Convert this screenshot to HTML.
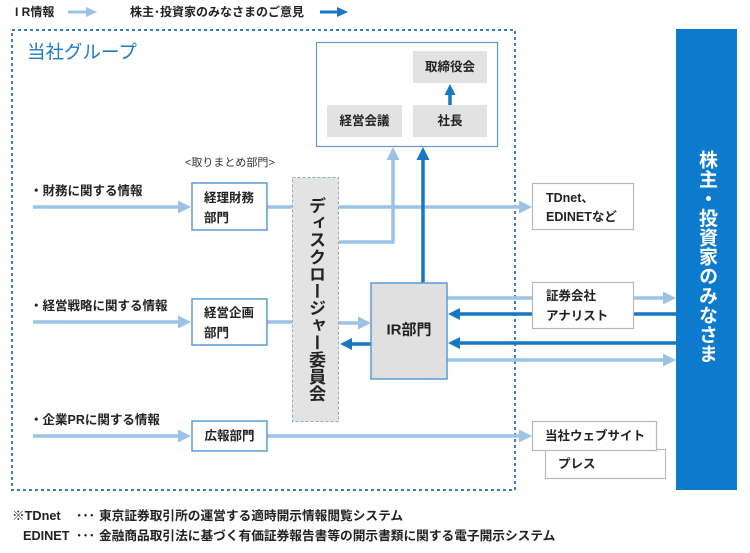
<!DOCTYPE html>
<html><head><meta charset="utf-8">
<style>
html,body{margin:0;padding:0;background:#fff;}
#c{position:relative;width:750px;height:553px;overflow:hidden;background:#fff;font-family:"Liberation Sans","Noto Sans CJK JP",sans-serif;}
svg{position:absolute;left:0;top:0;}
svg text{font-family:"Liberation Sans","Noto Sans CJK JP",sans-serif;}
.v{position:absolute;writing-mode:vertical-rl;font-family:"Liberation Sans","Noto Sans CJK JP",sans-serif;font-weight:bold;white-space:nowrap;}
</style></head><body>
<div id="c">
<svg width="750" height="553" viewBox="0 0 750 553">
  <!-- legend -->
  <text x="15" y="12" font-size="12" font-weight="bold" fill="#222" dominant-baseline="central">I R情報</text>
  <line x1="68" y1="12" x2="88" y2="12" stroke="#9cc3e5" stroke-width="3"/>
  <polygon points="86,7 97,12 86,17" fill="#9cc3e5"/>
  <text x="130" y="12" font-size="12" font-weight="bold" fill="#222" dominant-baseline="central">株主･投資家のみなさまのご意見</text>
  <line x1="320" y1="12" x2="339" y2="12" stroke="#1777c4" stroke-width="3"/>
  <polygon points="337,7 348,12 337,17" fill="#1777c4"/>

  <!-- group dotted box -->
  <rect x="12" y="30" width="503" height="460" fill="none" stroke="#3a80c3" stroke-width="2" stroke-dasharray="3 3"/>
  <text x="27" y="52" font-size="18.5" fill="#1a7cc5" dominant-baseline="central">当社グループ</text>

  <!-- top management box -->
  <rect x="316.5" y="42.5" width="181" height="104" fill="#fff" stroke="#5b9bd5" stroke-width="1.2"/>
  <rect x="413" y="51" width="74" height="32" fill="#e2e2e2"/>
  <rect x="327" y="105" width="75" height="32" fill="#e2e2e2"/>
  <rect x="413" y="105" width="74" height="32" fill="#e2e2e2"/>
  <text x="450" y="67" font-size="12.5" font-weight="bold" fill="#222" text-anchor="middle" dominant-baseline="central">取締役会</text>
  <text x="364.5" y="121" font-size="12.5" font-weight="bold" fill="#222" text-anchor="middle" dominant-baseline="central">経営会議</text>
  <text x="450" y="121" font-size="12.5" font-weight="bold" fill="#222" text-anchor="middle" dominant-baseline="central">社長</text>
  <line x1="450" y1="105" x2="450" y2="93" stroke="#1777c4" stroke-width="3.5"/>
  <polygon points="444.5,95 450,84 455.5,95" fill="#1777c4"/>

  <!-- light lines -->
  <g stroke="#9cc3e5" stroke-width="3.5" fill="none">
    <line x1="33" y1="207" x2="180" y2="207"/>
    <line x1="267" y1="207" x2="292" y2="207"/>
    <line x1="339" y1="207" x2="521" y2="207"/>
    <line x1="33" y1="322" x2="180" y2="322"/>
    <line x1="267" y1="322" x2="292" y2="322"/>
    <line x1="33" y1="436" x2="180" y2="436"/>
    <line x1="267" y1="436" x2="521" y2="436"/>
    <polyline points="339,242 393,242 393,158"/>
    <line x1="339" y1="323" x2="360" y2="323"/>
    <line x1="447" y1="298" x2="532" y2="298"/>
    <line x1="634" y1="298" x2="665" y2="298"/>
    <line x1="447" y1="360" x2="665" y2="360"/>
  </g>
  <g fill="#9cc3e5">
    <polygon points="178,200.5 191,207 178,213.5"/>
    <polygon points="178,315.5 191,322 178,328.5"/>
    <polygon points="178,429.5 191,436 178,442.5"/>
    <polygon points="519,200.5 532,207 519,213.5"/>
    <polygon points="519,429.5 532,436 519,442.5"/>
    <polygon points="386.5,160 393,147 399.5,160"/>
    <polygon points="358,316.5 371,323 358,329.5"/>
    <polygon points="663,291.5 676,298 663,304.5"/>
    <polygon points="663,353.5 676,360 663,366.5"/>
  </g>

  <!-- dark lines -->
  <g stroke="#1777c4" stroke-width="3.5" fill="none">
    <line x1="423" y1="283" x2="423" y2="158"/>
    <line x1="676" y1="314" x2="634" y2="314"/>
    <line x1="532" y1="314" x2="458" y2="314"/>
    <line x1="676" y1="343" x2="458" y2="343"/>
    <line x1="371" y1="344" x2="350" y2="344"/>
  </g>
  <g fill="#1777c4">
    <polygon points="416.5,160 423,147 429.5,160"/>
    <polygon points="460,308 448,314 460,320"/>
    <polygon points="460,337 448,343 460,349"/>
    <polygon points="352,338 340,344 352,350"/>
  </g>

  <!-- left dept boxes -->
  <g fill="#fff" stroke="#5b9bd5" stroke-width="1.5">
    <rect x="192" y="183" width="75" height="47"/>
    <rect x="192" y="299" width="75" height="46"/>
    <rect x="192" y="421" width="75" height="30"/>
  </g>
  <text x="185" y="163" font-size="11" fill="#333" dominant-baseline="central">&lt;取りまとめ部門&gt;</text>
  <g font-size="12.5" font-weight="bold" fill="#222" dominant-baseline="central">
    <text x="30" y="191">・財務に関する情報</text>
    <text x="30" y="306">・経営戦略に関する情報</text>
    <text x="30" y="420">・企業PRに関する情報</text>
    <text x="204" y="198">経理財務</text>
    <text x="204" y="218">部門</text>
    <text x="204" y="313">経営企画</text>
    <text x="204" y="333">部門</text>
    <text x="229.5" y="436" text-anchor="middle">広報部門</text>
  </g>

  <!-- disclosure committee -->
  <rect x="292.5" y="177.5" width="46" height="244" fill="#e3e3e3" stroke="#8fa9c8" stroke-width="1" stroke-dasharray="3 2"/>

  <!-- IR box -->
  <rect x="371" y="283" width="76" height="96" fill="#e0e0e0" stroke="#5b9bd5" stroke-width="1.5"/>
  <text x="409" y="330" font-size="15" font-weight="bold" fill="#222" text-anchor="middle" dominant-baseline="central">IR部門</text>

  <!-- right boxes -->
  <g fill="#fff" stroke="#b8b8b8" stroke-width="1.2">
    <rect x="532.5" y="183.5" width="101" height="46"/>
    <rect x="532.5" y="282.5" width="101" height="46"/>
    <rect x="545.5" y="449.5" width="120" height="29"/>
    <rect x="532.5" y="421.5" width="124" height="29"/>
  </g>
  <g font-size="12.5" font-weight="bold" fill="#222" dominant-baseline="central">
    <text x="546" y="198">TDnet、</text>
    <text x="546" y="217">EDINETなど</text>
    <text x="546" y="296">証券会社</text>
    <text x="546" y="316">アナリスト</text>
    <text x="545" y="436">当社ウェブサイト</text>
    <text x="558" y="464">プレス</text>
  </g>

  <!-- blue column -->
  <rect x="676" y="29" width="61" height="461" fill="#0c7bcd"/>

  <!-- footer -->
  <g font-size="12.7" font-weight="bold" fill="#222" dominant-baseline="central">
    <text x="12" y="516">※TDnet</text>
    <text x="76" y="516">･･･</text>
    <text x="99" y="516">東京証券取引所の運営する適時開示情報閲覧システム</text>
    <text x="23" y="536">EDINET</text>
    <text x="76" y="536">･･･</text>
    <text x="99" y="536">金融商品取引法に基づく有価証券報告書等の開示書類に関する電子開示システム</text>
  </g>
</svg>
<div class="v" style="left:306px;top:197px;font-size:17.1px;line-height:18px;color:#222;">ディスクロージャー委員会</div>
<div class="v" style="left:696px;top:150px;font-size:19px;line-height:20px;letter-spacing:0.4px;color:#fff;">株主・投資家のみなさま</div>
</div>
</body></html>
